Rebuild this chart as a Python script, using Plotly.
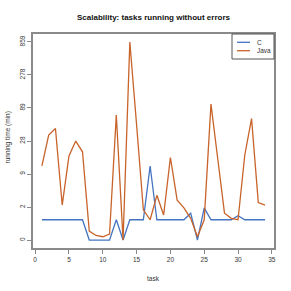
import math
import plotly.graph_objects as go

# ---- data (running time in minutes) ----
tasks = list(range(1, 35))
c_minutes = [1, 1, 1, 1, 1, 1, 1, 0, 0, 0, 0, 1, 0, 1, 1, 1, 11.5, 1, 1, 1, 1, 1, 1.5, 0,
             2, 1, 1, 1, 1, 1.3, 1, 1, 1, 1]
java_minutes = [11.6, 35, 44, 2.3, 16.6, 28.3, 19.3, 0.36, 0.17, 0.12, 0.23, 70, 0, 859, 50,
                1.8, 1.0, 3.6, 1.35, 15.7, 2.9, 2.0, 1.1, 0.12, 1.0, 102, 15, 1.5, 1.1, 1.0,
                17.2, 62, 2.6, 2.3]
y_tick_labels = ["0", "2", "9", "28", "89", "278", "859"]
x_tick_values = [0, 5, 10, 15, 20, 25, 30, 35]
series_names = ["C", "Java"]
series_colors = ["#4575C0", "#C8632A"]


def tr(v):
    return math.log10(1 + v)


L = math.log10(860)
y_tickvals = [k * L / 6 for k in range(7)]

fig = go.Figure()
for name, vals, col in zip(series_names, [c_minutes, java_minutes], series_colors):
    fig.add_trace(go.Scatter(x=tasks, y=[tr(v) for v in vals], mode="lines", name=name,
                             line=dict(color=col, width=1.3), showlegend=False))

FONT = "Liberation Sans, Arial, sans-serif"
axis_common = dict(showline=True, mirror=True, linecolor="#8a8a8a", linewidth=1.5,
                   ticks="outside", ticklen=4, tickcolor="#8a8a8a", tickwidth=1,
                   showgrid=False, zeroline=False,
                   tickfont=dict(family=FONT, size=6.5, color="#333333"))

fig.update_xaxes(range=[1 - 0.04 * 33, 34 + 0.04 * 33], tickvals=x_tick_values, **axis_common)
fig.update_yaxes(range=[-0.04 * L, 1.04 * L], tickvals=y_tickvals, ticktext=y_tick_labels,
                 tickangle=-90, ticklabelstandoff=0, **axis_common)

# custom legend (paper coords)
W0, W1 = 33, 274
H0, H1 = 34, 248


def px(x):
    return (x - W0) / (W1 - W0)


def py(y):
    return (H1 - y) / (H1 - H0)


shapes = [dict(type="rect", xref="paper", yref="paper", x0=px(232), x1=1, y0=py(59), y1=1,
               line=dict(color="#555555", width=1), fillcolor="white", layer="above")]
annotations = []
for i, (name, col) in enumerate(zip(series_names, series_colors)):
    yy = 42.3 + i * 8.4
    shapes.append(dict(type="line", xref="paper", yref="paper", x0=px(237), x1=px(250),
                       y0=py(yy), y1=py(yy), line=dict(color=col, width=1.3), layer="above"))
    annotations.append(dict(x=px(255), y=py(yy), xref="paper", yref="paper", text=name,
                            showarrow=False, xanchor="left", yanchor="middle",
                            font=dict(family=FONT, size=6.5, color="#333333")))

annotations.append(dict(x=0.5, y=py(278), xref="paper", yref="paper", text="task",
                        showarrow=False, xanchor="center", yanchor="middle",
                        font=dict(family=FONT, size=6.5, color="#333333")))
annotations.append(dict(x=px(7.5), y=py(138), xref="paper", yref="paper",
                        text="running time (min)", textangle=-90, showarrow=False,
                        xanchor="center", yanchor="middle",
                        font=dict(family=FONT, size=6.5, color="#333333")))

fig.update_layout(
    width=291, height=291,
    margin=dict(l=W0, r=291 - W1, t=H0, b=291 - H1),
    paper_bgcolor="white", plot_bgcolor="white",
    title=dict(text="<b>Scalability: tasks running without errors</b>",
               x=0.5, xref="paper", y=1 - 17 / 291, yref="container",
               xanchor="center", yanchor="middle",
               font=dict(family=FONT, size=8, color="#111111")),
    shapes=shapes, annotations=annotations, showlegend=False,
)

fig.write_html("out.html", config={"displayModeBar": False},
               post_script="document.body.style.margin='0';document.body.style.overflow='hidden';")
